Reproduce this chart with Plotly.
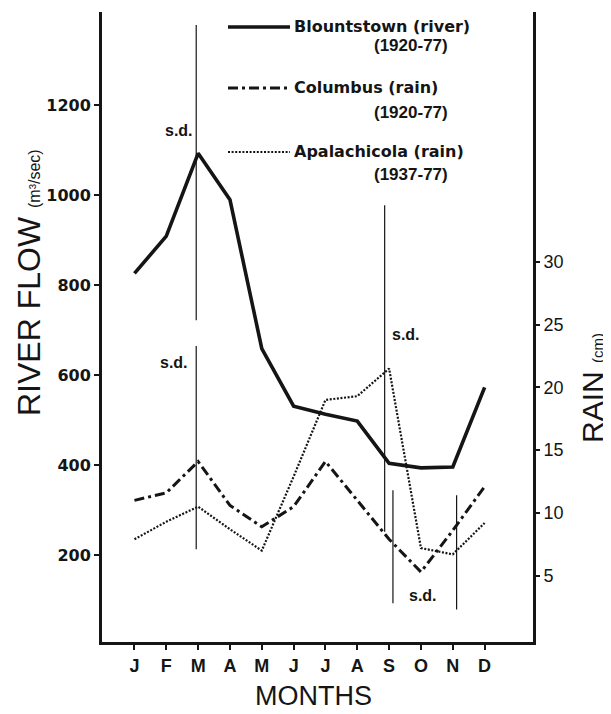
import plotly.graph_objects as go

# ---------------- data ----------------
months = ["J", "F", "M", "A", "M", "J", "J", "A", "S", "O", "N", "D"]
blountstown_flow = [826, 909, 1093, 990, 659, 531, 513, 498, 404, 394, 396, 573]   # m3/sec
columbus_rain = [11.0, 11.6, 14.1, 10.6, 8.9, 10.5, 14.1, 11.0, 7.9, 5.3, 8.6, 12.1]  # cm
apalachicola_rain = [7.9, 9.3, 10.5, 8.7, 7.0, 12.9, 19.0, 19.3, 21.5, 7.2, 6.7, 9.2]  # cm

flow_ticks = [200, 400, 600, 800, 1000, 1200]
rain_ticks = [5, 10, 15, 20, 25, 30]

# standard-deviation bars
sd_flow_month = [2]
sd_flow_low = [722]
sd_flow_high = [1378]
sd_rain_month = [2, 8, 8, 10]
sd_rain_low = [7.1, 8.5, 2.8, 2.3]
sd_rain_high = [23.3, 34.5, 11.8, 11.4]

# ---------------- layout helpers ----------------
OFF = 8                      # page body margin of the browser
W, H = 611 - OFF, 714 - OFF
L, T = 94, 4
R = W - 525
B = H - 634
PW, PH = W - L - R, H - T - B


def px(x):   # window pixel x -> paper
    return (x - OFF - L) / PW


def py(y):   # window pixel y -> paper
    return (H - B - (y - OFF)) / PH


x_idx = list(range(len(months)))
ink = "#151515"
sd_shift = [-0.06, -0.14, 0.12, 0.12]


def seg(xs, lows, highs, shifts):
    X, Y = [], []
    for x, lo, hi, s in zip(xs, lows, highs, shifts):
        X += [x + s, x + s, None]
        Y += [lo, hi, None]
    return X, Y


DASHDOT = "10px,4px,3px,4px"
DOTTED = "2px,1.6px"

fig = go.Figure()

fig.add_trace(go.Scatter(x=x_idx, y=blountstown_flow, mode="lines",
                         line=dict(color=ink, width=3.6), yaxis="y",
                         name="Blountstown (river) (1920-77)", showlegend=False))
fig.add_trace(go.Scatter(x=x_idx, y=columbus_rain, mode="lines",
                         line=dict(color=ink, width=3, dash=DASHDOT), yaxis="y2",
                         name="Columbus (rain) (1920-77)", showlegend=False))
fig.add_trace(go.Scatter(x=x_idx, y=apalachicola_rain, mode="lines",
                         line=dict(color=ink, width=2.2, dash=DOTTED), yaxis="y2",
                         name="Apalachicola (rain) (1937-77)", showlegend=False))

sx, sy = seg(sd_flow_month, sd_flow_low, sd_flow_high, sd_shift[:1])
fig.add_trace(go.Scatter(x=sx, y=sy, mode="lines", line=dict(color=ink, width=1.2),
                         yaxis="y", showlegend=False, hoverinfo="skip"))
sx, sy = seg(sd_rain_month, sd_rain_low, sd_rain_high, sd_shift)
fig.add_trace(go.Scatter(x=sx, y=sy, mode="lines", line=dict(color=ink, width=1.2),
                         yaxis="y2", showlegend=False, hoverinfo="skip"))

LIB = "Liberation Sans, Arial, sans-serif"
DJV = "DejaVu Sans, Verdana, sans-serif"

fig.update_layout(
    width=W, height=H,
    margin=dict(l=L, r=R, t=T, b=B, pad=0),
    paper_bgcolor="white", plot_bgcolor="white",
    showlegend=False,
    font=dict(family=LIB, color=ink),
    xaxis=dict(range=[-1.02, 12.52], tickmode="array", tickvals=x_idx, ticktext=months,
               showline=True, linewidth=3, linecolor=ink, mirror=False,
               ticks="outside", ticklen=5, tickwidth=1.5, tickcolor=ink,
               showgrid=False, zeroline=False,
               tickfont=dict(size=18, family=LIB, color=ink, weight="bold"),
               ticklabelstandoff=0),
    yaxis=dict(range=[7, 1407], tickmode="array", tickvals=flow_ticks,
               showline=True, linewidth=3, linecolor=ink,
               ticks="outside", ticklen=5, tickwidth=1.5, tickcolor=ink,
               showgrid=False, zeroline=False,
               tickfont=dict(size=16, family=DJV, color=ink, weight="bold"),
               ticklabelstandoff=0),
    yaxis2=dict(range=[-0.28, 49.9], tickmode="array", tickvals=rain_ticks,
                overlaying="y", side="right",
                showline=True, linewidth=3, linecolor=ink,
                ticks="outside", ticklen=4, tickwidth=1.5, tickcolor=ink,
                showgrid=False, zeroline=False,
                tickfont=dict(size=18, family=LIB, color=ink),
                ticklabelstandoff=0),
)

ann = []
# axis titles
ann.append(dict(xref="paper", yref="paper", x=px(29), y=py(283), textangle=-90,
                text="RIVER FLOW <span style='font-size:16px'>(m³/sec)</span>",
                font=dict(size=32, color=ink, family=LIB), showarrow=False,
                xanchor="center", yanchor="middle"))
ann.append(dict(xref="paper", yref="paper", x=px(592), y=py(388), textangle=-90,
                text="RAIN <span style='font-size:15px'>(cm)</span>",
                font=dict(size=30, color=ink, family=LIB), showarrow=False,
                xanchor="center", yanchor="middle"))
ann.append(dict(xref="paper", yref="paper", x=px(313), y=py(696),
                text="MONTHS", font=dict(size=27, color=ink, family=LIB), showarrow=False,
                xanchor="center", yanchor="middle"))

# s.d. labels
sd_font = dict(size=16, color=ink, weight="bold", family=LIB)
ann.append(dict(xref="x", yref="y", x=1.89, y=1144, text="s.d.", font=sd_font,
                showarrow=False, xanchor="right", yanchor="middle"))
ann.append(dict(xref="x", yref="y", x=1.73, y=629, text="s.d.", font=sd_font,
                showarrow=False, xanchor="right", yanchor="middle"))
ann.append(dict(xref="x", yref="y", x=8.02, y=691, text="s.d.", font=sd_font,
                showarrow=False, xanchor="left", yanchor="middle"))
ann.append(dict(xref="x", yref="y", x=9.06, y=111, text="s.d.", font=sd_font,
                showarrow=False, xanchor="center", yanchor="middle"))

# legend (hand placed)
leg_font = dict(size=16, color=ink, weight="bold", family=DJV)
yr_font = dict(size=17, color=ink, weight="bold", family=LIB)
legend_rows = [
    ("Blountstown (river)", "(1920-77)", dict(width=3.6), 27, 45),
    ("Columbus (rain)", "(1920-77)", dict(width=3, dash=DASHDOT), 88, 113),
    ("Apalachicola (rain)", "(1937-77)", dict(width=2.2, dash=DOTTED), 152, 175),
]
shapes = []
for name, years, lstyle, ly, yy in legend_rows:
    shapes.append(dict(type="line", xref="paper", yref="paper",
                       x0=px(228), x1=px(290), y0=py(ly), y1=py(ly),
                       line=dict(color=ink, **lstyle)))
    ann.append(dict(xref="paper", yref="paper", x=px(292), y=py(ly - 1), text=name,
                    font=leg_font, showarrow=False, xanchor="left", yanchor="middle"))
    ann.append(dict(xref="paper", yref="paper", x=px(411), y=py(yy), text=years,
                    font=yr_font, showarrow=False, xanchor="center", yanchor="middle"))

fig.update_layout(annotations=ann, shapes=shapes)

fig.write_html("out.html")
